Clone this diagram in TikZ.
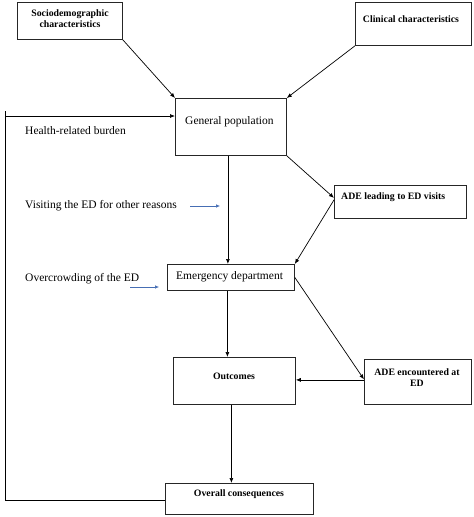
\documentclass[tikz,border=0pt]{standalone}
\usepackage{fontspec}
\setmainfont{Liberation Serif}
\usetikzlibrary{arrows.meta,calc}
\begin{document}
\begin{tikzpicture}[x=1pt,y=-1pt,
  box/.style={draw=black!85,line width=0.8pt,inner sep=0pt,anchor=north west},
  reg/.style={font=\fontsize{11.5}{13}\selectfont,inner sep=0pt},
  bld/.style={font=\fontsize{9.8}{11}\selectfont\bfseries,inner sep=0pt,align=center},
  arr/.style={line width=0.7pt,-{Latex[length=5pt,width=4pt]}},
  barr/.style={line width=0.6pt,draw={rgb,255:red,70;green,110;blue,180},-{Latex[length=4pt,width=3.5pt]}}]
\useasboundingbox (0,0) rectangle (474,517);
% boxes
\node[box,minimum width=105pt,minimum height=37pt] (soc) at (17,2) {};
\node[bld] (soct) at (70,18.5) {Sociodemographic\\characteristics};
\node[box,minimum width=116pt,minimum height=43pt] (clin) at (355,2) {};
\node[bld] (clint) at (411,19) {Clinical characteristics};
\node[box,minimum width=111pt,minimum height=57pt] (gp) at (175,98) {};
\node[reg,anchor=west] (gpt) at (185,122) {General population};
\node[box,minimum width=132pt,minimum height=33pt] (adel) at (334,185) {};
\node[bld,anchor=west] (adelt) at (341,197) {ADE leading to ED visits};
\node[box,minimum width=127pt,minimum height=26pt] (ed) at (167,264) {};
\node[reg,anchor=west] (edt) at (176,276.5) {Emergency department};
\node[box,minimum width=122pt,minimum height=47pt] (out) at (173,357) {};
\node[bld] (outt) at (234,376) {Outcomes};
\node[box,minimum width=107pt,minimum height=45pt] (adee) at (364,359) {};
\node[bld] (adeet) at (417,377.5) {ADE encountered at\\ED};
\node[box,minimum width=148pt,minimum height=31pt] (ovc) at (165,483) {};
\node[bld] (ovct) at (239,494) {Overall consequences};
% free texts
\node[reg,anchor=west] (hrb) at (25,131) {Health-related burden};
\node[reg,anchor=west] (vis) at (25,205.5) {Visiting the ED for other reasons};
\node[reg,anchor=west] (ovr) at (25,278.5) {Overcrowding of the ED};
% connectors
\draw[arr] (soc.south east) -- (gp.north west);
\draw[arr] (clin.south west) -- (gp.north east);
\draw[arr] ([xshift=-3pt]gp.south) -- ([xshift=-3pt]gp.south |- ed.north);
\draw[arr] (gp.south east) -- ([yshift=4pt]adel.west);
\draw[arr] ([yshift=2pt]adel.west) -- (ed.north east);
\draw[arr] (ed.east) -- ([yshift=2.5pt]adee.west);
\draw[arr] ([yshift=2pt]adee.west) -- ([yshift=2pt]adee.west -| out.east);
\draw[arr] ([xshift=-3.5pt]ed.south) -- ([xshift=-3.5pt]ed.south |- out.north);
\draw[arr] ([xshift=-3pt]out.south) -- ([xshift=-3pt]out.south |- ovc.north);
\coordinate (c) at (5,116);
\draw[line width=0.7pt] (5,111) -- (c);
\draw[arr] ([yshift=-1.5pt]ovc.west) -| (c) -- (c -| gp.west);
% blue arrows
\coordinate (v1) at (190,206);
\coordinate (v2) at (220,206);
\draw[barr] (v1) -- (v2);
\coordinate (o1) at (130,287);
\coordinate (o2) at (159,287);
\draw[barr] (o1) -- (o2);
\end{tikzpicture}
\end{document}
